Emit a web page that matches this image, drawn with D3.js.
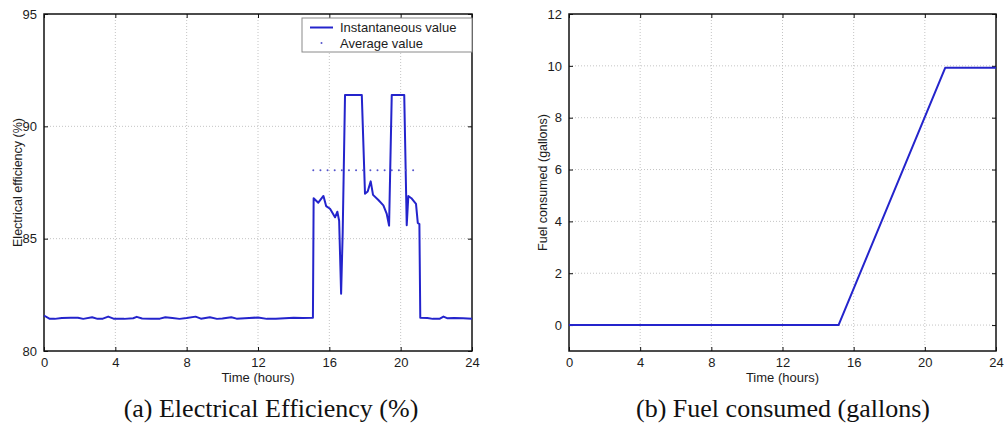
<!DOCTYPE html>
<html>
<head>
<meta charset="utf-8">
<script src="https://cdn.jsdelivr.net/npm/d3@7"></script>
<style>
  html, body { margin: 0; padding: 0; background: #fff; }
  svg { display: block; }
  .tick text { font-family: "Liberation Sans", Arial, sans-serif; }
</style>
</head>
<body>
<svg id="chart" width="1005" height="425"></svg>
<script>
// ---------------- DATA ----------------
const effTimes = [0, 0.3, 0.6, 1.0, 1.5, 1.9, 2.2, 2.7, 3.0, 3.3, 3.6, 3.9, 4.5, 5.0, 5.2, 5.5, 6.0, 6.5, 6.8, 7.2, 7.6, 8.0, 8.5, 8.8, 9.3, 9.7, 10.0, 10.5, 10.8, 11.5, 12.0, 12.5, 13.0, 13.5, 14.0, 14.5, 15.08,
  15.12, 15.38, 15.67, 15.82, 16.04, 16.32, 16.45, 16.55, 16.66, 16.75, 16.88, 17.82, 18.0, 18.15, 18.32, 18.45, 18.75, 19.03, 19.22, 19.35, 19.5, 20.2, 20.34, 20.43, 20.6, 20.86, 20.96, 21.05,
  21.1, 21.5, 21.8, 22.2, 22.4, 22.6, 23.0, 23.5, 24.0];
const effValues = [81.58, 81.44, 81.43, 81.47, 81.48, 81.48, 81.43, 81.5, 81.43, 81.44, 81.53, 81.44, 81.43, 81.46, 81.52, 81.45, 81.43, 81.44, 81.5, 81.47, 81.43, 81.47, 81.53, 81.44, 81.5, 81.43, 81.45, 81.5, 81.44, 81.47, 81.49, 81.43, 81.44, 81.46, 81.48, 81.47, 81.48,
  86.8, 86.6, 86.9, 86.45, 86.33, 85.95, 86.2, 85.8, 82.55, 85.3, 91.4, 91.4, 87.0, 87.1, 87.55, 86.95, 86.72, 86.48, 86.1, 85.58, 91.4, 91.4, 85.6, 86.9, 86.8, 86.55, 85.7, 85.65,
  81.48, 81.47, 81.43, 81.44, 81.53, 81.46, 81.47, 81.46, 81.44];
const avgTimes = [15.1, 15.5, 15.9, 16.3, 16.7, 17.1, 17.5, 17.9, 18.3, 18.7, 19.1, 19.5, 19.9, 20.3, 20.7];
const avgValues = [88.05, 88.05, 88.05, 88.05, 88.05, 88.05, 88.05, 88.05, 88.05, 88.05, 88.05, 88.05, 88.05, 88.05, 88.05];

const fuelTimes = [0, 15.15, 21.15, 24];
const fuelValues = [0, 0, 9.93, 9.93];

const xTicks = [0, 4, 8, 12, 16, 20, 24];
const effTicks = [80, 85, 90, 95];
const fuelTicks = [0, 2, 4, 6, 8, 10, 12];

const legendLabels = ["Instantaneous value", "Average value"];
const captions = ["(a) Electrical Efficiency (%)", "(b) Fuel consumed (gallons)"];
const yTitles = ["Electrical efficiency (%)", "Fuel consumed (gallons)"];
const xTitle = "Time (hours)";

// ---------------- DRAW ----------------
const svg = d3.select("#chart");
const lineColor = "#2424cc";
const textColor = "#1c1c1c";

function panel(opts) {
  const { left, right, top, bottom, yDomain, yTickVals } = opts;
  const x = d3.scaleLinear().domain([0, 24]).range([left, right]);
  const y = d3.scaleLinear().domain(yDomain).range([bottom, top]);
  const g = svg.append("g");

  // grid
  g.append("g").selectAll("line.vg").data(xTicks.slice(1, -1)).join("line")
    .attr("x1", d => x(d)).attr("x2", d => x(d)).attr("y1", top).attr("y2", bottom)
    .attr("stroke", "#c4c4c4").attr("stroke-width", 1).attr("stroke-dasharray", "1,2");
  g.append("g").selectAll("line.hg").data(yTickVals.filter(v => v > yDomain[0] && v < yDomain[1])).join("line")
    .attr("x1", left).attr("x2", right).attr("y1", d => y(d)).attr("y2", d => y(d))
    .attr("stroke", "#c4c4c4").attr("stroke-width", 1).attr("stroke-dasharray", "1,2");

  // axes
  const fmt = d3.format("d");
  const bx = g.append("g").attr("transform", `translate(0,${bottom})`)
    .call(d3.axisBottom(x).tickValues(xTicks).tickFormat(fmt).tickSizeInner(-4).tickSizeOuter(0).tickPadding(7));
  const tx = g.append("g").attr("transform", `translate(0,${top})`)
    .call(d3.axisTop(x).tickValues(xTicks).tickFormat("").tickSizeInner(-4).tickSizeOuter(0));
  const ly = g.append("g").attr("transform", `translate(${left},0)`)
    .call(d3.axisLeft(y).tickValues(yTickVals).tickFormat(fmt).tickSizeInner(-4).tickSizeOuter(0).tickPadding(7));
  const ry = g.append("g").attr("transform", `translate(${right},0)`)
    .call(d3.axisRight(y).tickValues(yTickVals).tickFormat("").tickSizeInner(-4).tickSizeOuter(0));
  [bx, tx, ly, ry].forEach(a => {
    a.select(".domain").remove();
    a.selectAll(".tick line").attr("stroke", "#111").attr("stroke-width", 1);
    a.selectAll(".tick text").attr("fill", textColor).attr("font-size", 13);
  });

  // frame
  g.append("rect").attr("x", left).attr("y", top).attr("width", right - left).attr("height", bottom - top)
    .attr("fill", "none").attr("stroke", "#111").attr("stroke-width", 1.5);

  // titles
  g.append("text").attr("x", (left + right) / 2).attr("y", bottom + 31)
    .attr("text-anchor", "middle").attr("font-family", "Liberation Sans, Arial, sans-serif")
    .attr("font-size", 13).attr("fill", textColor).text(xTitle);
  g.append("text").attr("transform", `translate(${opts.yTitleX},${(top + bottom) / 2}) rotate(-90)`)
    .attr("text-anchor", "middle").attr("dominant-baseline", "central")
    .attr("font-family", "Liberation Sans, Arial, sans-serif")
    .attr("font-size", 12.5).attr("fill", textColor).text(opts.yTitle);
  g.append("text").attr("x", opts.captionX).attr("y", 417)
    .attr("text-anchor", "middle").attr("font-family", "Liberation Serif, Times New Roman, serif")
    .attr("font-size", 26).attr("fill", "#111").text(opts.caption);

  return { g, x, y };
}

// Panel (a)
const A = panel({ left: 44, right: 472, top: 14, bottom: 351, yDomain: [80, 95], yTickVals: effTicks,
  yTitle: yTitles[0], yTitleX: 18, caption: captions[0], captionX: 271 });
const effData = effTimes.map((t, i) => [t, effValues[i]]);
A.g.append("path").datum(effData)
  .attr("d", d3.line().x(d => A.x(d[0])).y(d => A.y(d[1])))
  .attr("fill", "none").attr("stroke", lineColor).attr("stroke-width", 2).attr("stroke-linejoin", "round");
A.g.append("g").selectAll("circle").data(avgTimes.map((t, i) => [t, avgValues[i]])).join("circle")
  .attr("cx", d => A.x(d[0])).attr("cy", d => A.y(d[1])).attr("r", 1).attr("fill", "#5555cc");

// legend
const lg = A.g.append("g");
lg.append("rect").attr("x", 302).attr("y", 18).attr("width", 170).attr("height", 34)
  .attr("fill", "#fff").attr("stroke", "#8a8a8a").attr("stroke-width", 1);
lg.append("line").attr("x1", 310).attr("x2", 333).attr("y1", 27.5).attr("y2", 27.5)
  .attr("stroke", lineColor).attr("stroke-width", 2);
lg.append("circle").attr("cx", 321.5).attr("cy", 43).attr("r", 1).attr("fill", "#5555cc");
legendLabels.forEach((l, i) => {
  lg.append("text").attr("x", 340).attr("y", 27.5 + i * 15.5).attr("dominant-baseline", "central")
    .attr("font-family", "Liberation Sans, Arial, sans-serif").attr("font-size", 13)
    .attr("fill", textColor).text(l);
});

// Panel (b)
const B = panel({ left: 569, right: 996, top: 14, bottom: 351, yDomain: [-1, 12], yTickVals: fuelTicks,
  yTitle: yTitles[1], yTitleX: 543, caption: captions[1], captionX: 783 });
B.g.append("path").datum(fuelTimes.map((t, i) => [t, fuelValues[i]]))
  .attr("d", d3.line().x(d => B.x(d[0])).y(d => B.y(d[1])))
  .attr("fill", "none").attr("stroke", lineColor).attr("stroke-width", 2).attr("stroke-linejoin", "round");
</script>
</body>
</html>
